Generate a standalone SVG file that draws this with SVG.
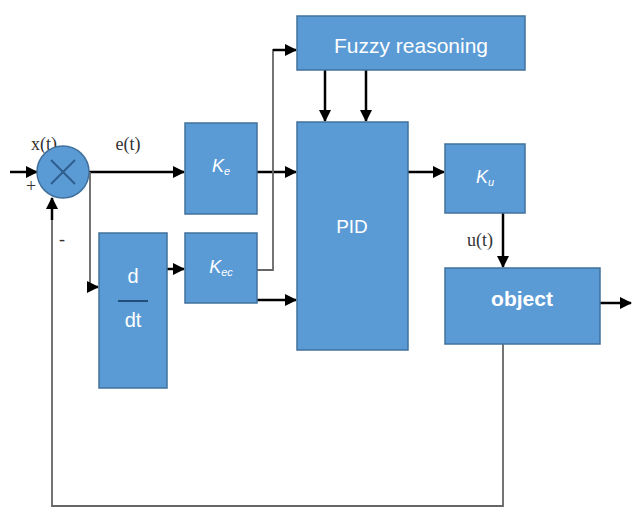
<svg xmlns="http://www.w3.org/2000/svg" width="632" height="510" viewBox="0 0 632 510">
<defs>
<marker id="ah" markerWidth="12" markerHeight="12" refX="11" refY="6" orient="auto" markerUnits="userSpaceOnUse">
<path d="M0,0 L12,6 L0,12 Z" fill="#000"/>
</marker>
<style>
.box{fill:#5b9bd5;stroke:#41719c;stroke-width:1.5}
.lbl{fill:#fff;font-family:"Liberation Sans",Arial,sans-serif;text-anchor:middle}
.ser{fill:#333;font-family:"Liberation Serif","Times New Roman",serif;font-size:18px;text-anchor:middle}
.ar{stroke:#000;stroke-width:2.5;fill:none;marker-end:url(#ah)}
.gr{stroke:#666;stroke-width:1.8;fill:none}
</style>
</defs>
<rect width="632" height="510" fill="#fff"/>
<g id="connectors">
<line class="ar" x1="10" y1="172" x2="37" y2="172"/>
<line class="ar" x1="89" y1="172" x2="184" y2="172"/>
<polyline class="gr" points="90,172 90,287 92,287"/>
<line class="ar" x1="90" y1="287" x2="98" y2="287"/>
<line class="ar" x1="167" y1="269" x2="184" y2="269"/>
<line class="ar" x1="257" y1="172" x2="296" y2="172"/>
<polyline class="gr" points="257,270 273,270 273,50 280,50"/>
<line class="ar" x1="273" y1="50" x2="296" y2="50"/>
<line class="ar" x1="257" y1="300" x2="296" y2="300"/>
<line class="ar" x1="325" y1="70" x2="325" y2="121"/>
<line class="ar" x1="366" y1="70" x2="366" y2="121"/>
<line class="ar" x1="408" y1="172" x2="444" y2="172"/>
<line class="ar" x1="503" y1="213" x2="503" y2="267"/>
<line class="ar" x1="600" y1="303" x2="631" y2="303"/>
<polyline class="gr" points="503,344 503,506 52,506 52,215"/>
<line class="ar" x1="52" y1="220" x2="52" y2="198"/>
</g>
<g id="labels">
<text class="ser" x="44" y="150">x(t)</text>
<text class="ser" x="31" y="192">+</text>
<text class="ser" x="62" y="245">-</text>
<text class="ser" x="128" y="150">e(t)</text>
<text class="ser" x="480" y="246">u(t)</text>
</g>
<g id="sum">
<circle cx="63" cy="172" r="26" class="box"/>
<line x1="51" y1="160" x2="75" y2="184" stroke="#2e5e8c" stroke-width="2"/>
<line x1="75" y1="160" x2="51" y2="184" stroke="#2e5e8c" stroke-width="2"/>
</g>
<g id="ddt">
<rect class="box" x="99" y="233" width="68" height="155"/>
<text class="lbl" x="133" y="283" font-size="20">d</text>
<line x1="118" y1="301" x2="148" y2="301" stroke="#1f4e79" stroke-width="2"/>
<text class="lbl" x="133" y="327" font-size="20">dt</text>
</g>
<g id="ke">
<rect class="box" x="185" y="123" width="72" height="91"/>
<text class="lbl" x="221" y="172" font-size="18" font-style="italic">K<tspan font-size="11" dy="3">e</tspan></text>
</g>
<g id="kec">
<rect class="box" x="185" y="233" width="72" height="70"/>
<text class="lbl" x="221" y="273" font-size="18" font-style="italic">K<tspan font-size="11" dy="3">ec</tspan></text>
</g>
<g id="fuzzy">
<rect class="box" x="297" y="16" width="228" height="54"/>
<text class="lbl" x="411" y="53" font-size="21">Fuzzy reasoning</text>
</g>
<g id="pid">
<rect class="box" x="297" y="122" width="111" height="228"/>
<text class="lbl" x="352" y="233" font-size="19">PID</text>
</g>
<g id="ku">
<rect class="box" x="445" y="144" width="80" height="69"/>
<text class="lbl" x="485" y="183" font-size="18" font-style="italic">K<tspan font-size="11" dy="3">u</tspan></text>
</g>
<g id="object">
<rect class="box" x="445" y="268" width="155" height="76"/>
<text class="lbl" x="522" y="306" font-size="21" font-weight="bold">object</text>
</g>
</svg>
